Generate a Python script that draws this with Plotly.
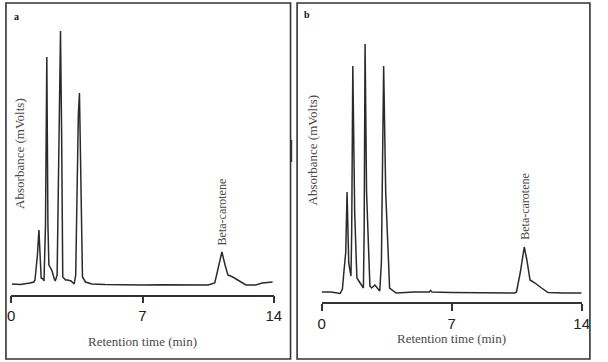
import plotly.graph_objects as go

# Panel a chromatogram (retention time in min, absorbance relative to baseline)
time_a = [0.04, 0.5, 1.0, 1.20, 1.27, 1.40, 1.48, 1.55, 1.60, 1.70, 1.75, 1.83, 1.90, 1.96,
          2.01, 2.10, 2.18, 2.30, 2.35, 2.45, 2.57, 2.63, 2.69, 2.75, 2.90, 3.01, 3.19, 3.36,
          3.44, 3.58, 3.64, 3.72, 3.80, 3.96, 4.3, 5.0, 6.0, 7.0, 8.0, 9.0, 10.0, 10.5, 10.85,
          11.05, 11.23, 11.40, 11.55, 11.81, 12.16, 12.51, 13.03, 13.38, 13.93]
abs_a = [1, 0.5, 2, 3, 5, 30, 55, 20, 7, 6, 4, 60, 228, 60,
         20, 17, 14, 6, 4, 10, 200, 254, 150, 8, 5, 5, 4, 1,
         10, 170, 192, 100, 8, 3, 1, 0.5, 0, 0, 0.3, 0, 0, 0, 2,
         18, 33, 20, 10, 8, 4, 0, 0, 2, 3]

# Panel b chromatogram
time_b = [0.0, 0.5, 1.0, 1.12, 1.20, 1.25, 1.30, 1.37, 1.46, 1.58, 1.62, 1.68, 1.78, 1.90,
          2.07, 2.25, 2.29, 2.34, 2.42, 2.60, 2.69, 2.87, 3.13, 3.22, 3.34, 3.45, 3.66, 4.01,
          5.0, 5.8, 5.86, 5.95, 7.0, 9.0, 10.4, 10.49, 10.7, 10.91, 11.05, 11.22, 11.49, 11.84,
          12.19, 13.0, 14.0]
abs_b = [0, 0, -1.5, 3, 20, 33, 40, 100, 29, 16, 60, 226, 80, 14,
         9, 4, 60, 248, 100, 6, 4, 7, 1, 30, 226, 100, 4, -1,
         0, 0, 1.5, 0, -0.5, -1, -1, 0, 20, 45, 32, 12, 9, 4,
         -0.5, -1, -1]

tick_vals = [0, 7, 14]
tick_text = ["0", "7", "14"]
x_title = "Retention time (min)"
y_title = "Absorbance (mVolts)"
peak_label = "Beta-carotene"
peak_a_time, peak_a_abs = 11.23, 33
peak_b_time, peak_b_abs = 10.91, 45

W, H = 608, 362
def px(x):
    return x / W
def py(y):
    return 1 - y / H

line_col = "#2a2a2a"
text_col = "#4a4a4a"

fig = go.Figure()
fig.add_trace(go.Scatter(x=time_a, y=abs_a, mode="lines", xaxis="x", yaxis="y",
                         line=dict(color=line_col, width=1.5), showlegend=False,
                         hoverinfo="skip"))
fig.add_trace(go.Scatter(x=time_b, y=abs_b, mode="lines", xaxis="x2", yaxis="y2",
                         line=dict(color=line_col, width=1.5), showlegend=False,
                         hoverinfo="skip"))

xcommon = dict(range=[0, 14], tickmode="array", tickvals=tick_vals, ticktext=tick_text,
               showline=True, linecolor="#333", linewidth=1.6, ticks="outside",
               ticklen=7, tickwidth=1.6, tickcolor="#333", showgrid=False, zeroline=False,
               tickfont=dict(family="Liberation Sans, Arial", size=15, color="#222"),
               fixedrange=True)
ycommon = dict(visible=False, showgrid=False, zeroline=False, fixedrange=True)

fig.update_layout(
    width=W, height=H, margin=dict(l=0, r=0, t=0, b=0),
    paper_bgcolor="white", plot_bgcolor="white",
    xaxis=dict(domain=[px(7.3), px(275.3)], anchor="y", **xcommon),
    yaxis=dict(domain=[py(294.5), py(20)], range=[-9.5, 265], anchor="x", **ycommon),
    xaxis2=dict(domain=[px(324), px(589.3)], anchor="y2", **xcommon),
    yaxis2=dict(domain=[py(302), py(20)], range=[-10, 272], anchor="x2", **ycommon),
)

shapes = [
    dict(type="rect", xref="paper", yref="paper", x0=px(2), x1=px(292.3), y0=py(359), y1=py(3),
         line=dict(color="#333", width=1.6)),
    dict(type="rect", xref="paper", yref="paper", x0=px(299), x1=px(597.7), y0=py(359), y1=py(3),
         line=dict(color="#333", width=1.6)),
    dict(type="line", xref="paper", yref="paper", x0=px(293), x1=px(293), y0=py(140), y1=py(162),
         line=dict(color="#333", width=2)),
]
fig.update_layout(shapes=shapes)

serif = "Liberation Serif, Times New Roman, serif"
ann = []
# x titles
ann.append(dict(text=x_title, x=px(141.3), y=py(341), xref="paper", yref="paper",
                showarrow=False, font=dict(family=serif, size=13, color=text_col),
                xanchor="center", yanchor="middle"))
ann.append(dict(text=x_title, x=px(456.7), y=py(338), xref="paper", yref="paper",
                showarrow=False, font=dict(family=serif, size=13, color=text_col),
                xanchor="center", yanchor="middle"))
# y titles
ann.append(dict(text=y_title, x=px(15.7), y=py(153.5), xref="paper", yref="paper",
                showarrow=False, textangle=-90, font=dict(family=serif, size=13, color=text_col),
                xanchor="center", yanchor="middle"))
ann.append(dict(text=y_title, x=px(315.7), y=py(150), xref="paper", yref="paper",
                showarrow=False, textangle=-90, font=dict(family=serif, size=13, color=text_col),
                xanchor="center", yanchor="middle"))
# peak labels
ann.append(dict(text=peak_label, x=peak_a_time, y=peak_a_abs, xref="x", yref="y",
                showarrow=False, textangle=-90, yshift=5,
                font=dict(family=serif, size=12, color=text_col),
                xanchor="center", yanchor="bottom"))
ann.append(dict(text=peak_label, x=peak_b_time, y=peak_b_abs, xref="x2", yref="y2",
                showarrow=False, textangle=-90, yshift=5,
                font=dict(family=serif, size=12, color=text_col),
                xanchor="center", yanchor="bottom"))
# panel letters
ann.append(dict(text="<b>a</b>", x=px(13), y=py(16), xref="paper", yref="paper",
                showarrow=False, font=dict(family=serif, size=10, color="#111"),
                xanchor="center", yanchor="middle"))
ann.append(dict(text="<b>b</b>", x=px(309), y=py(15), xref="paper", yref="paper",
                showarrow=False, font=dict(family=serif, size=10, color="#111"),
                xanchor="center", yanchor="middle"))
fig.update_layout(annotations=ann)

fig.write_html("out.html")
